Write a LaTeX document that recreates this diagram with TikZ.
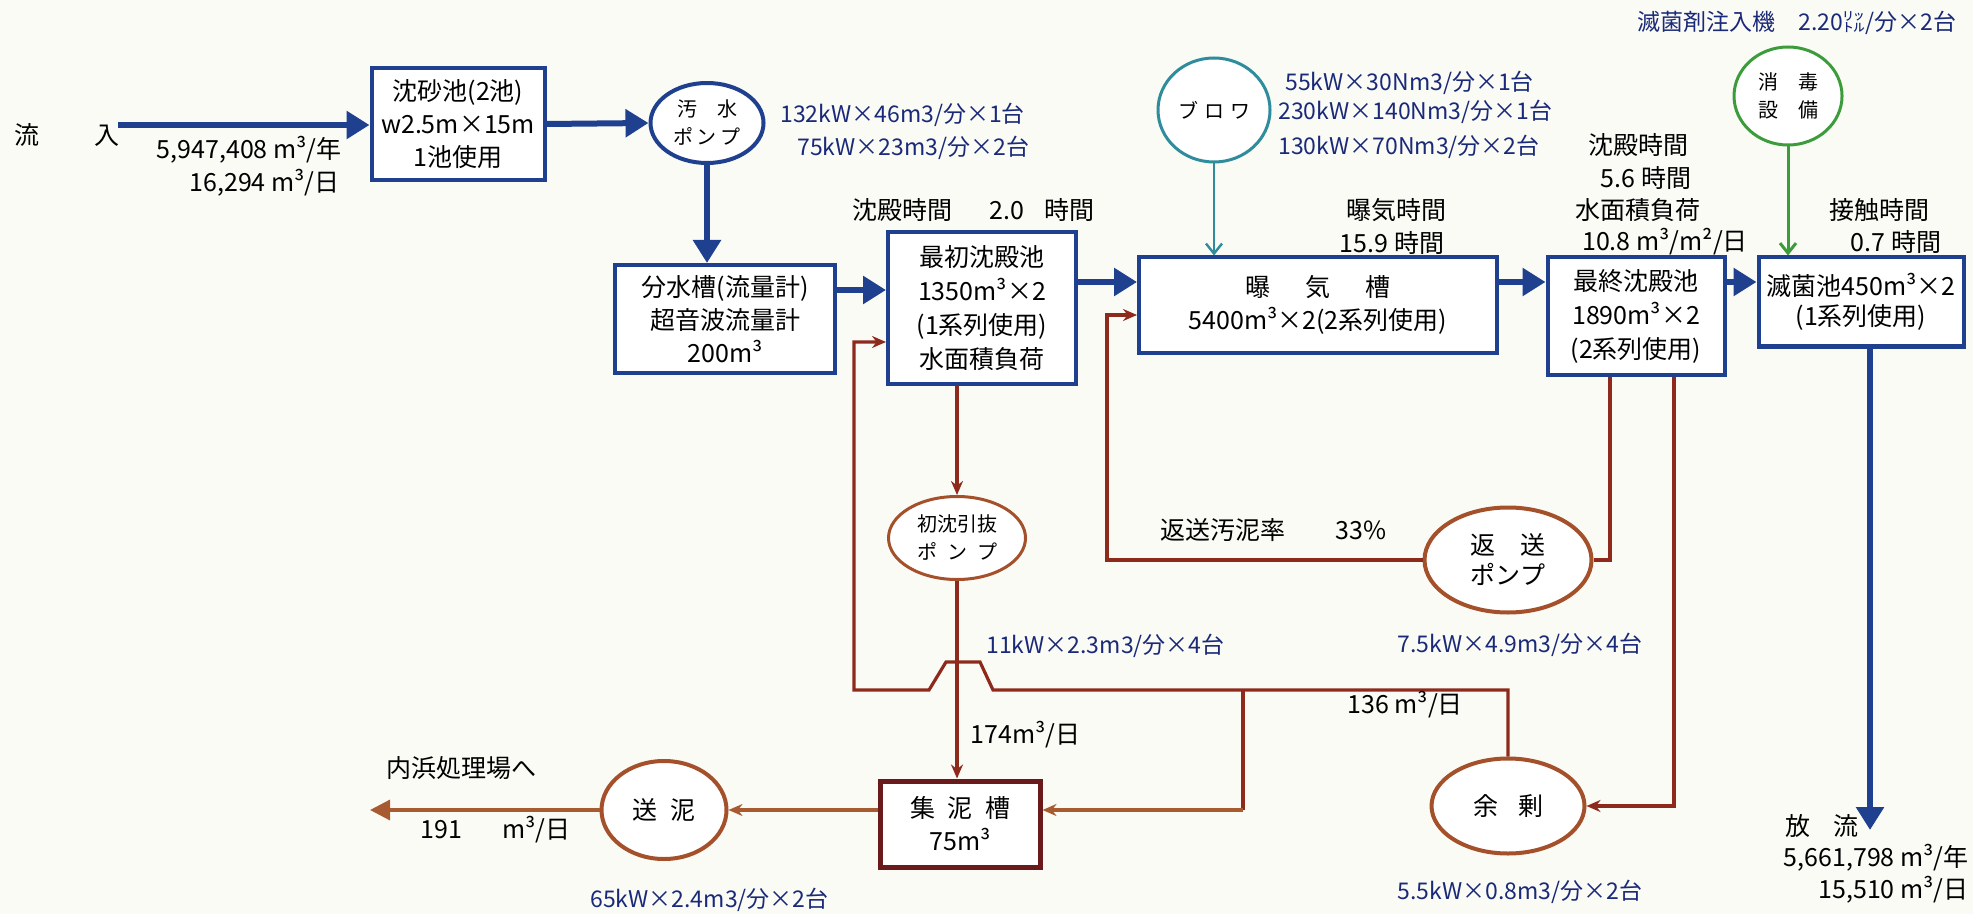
\documentclass[tikz,border=0pt]{standalone}
\usepackage{fontspec}
\setmainfont{Noto Sans CJK JP}
\usetikzlibrary{arrows.meta,shapes.geometric}

\definecolor{paper}{HTML}{FBFBF6}
\definecolor{flowblue}{HTML}{1F3F8F}
\definecolor{specblue}{HTML}{1A2A78}
\definecolor{sludge}{HTML}{8E2A1C}
\definecolor{pumpring}{HTML}{A4502A}
\definecolor{cakeline}{HTML}{A85A30}
\definecolor{tankred}{HTML}{6A1A1A}
\definecolor{airteal}{HTML}{2E8C9C}
\definecolor{chlorgreen}{HTML}{3C9C3C}

\newcommand{\labfont}{\fontsize{12.5}{16.5}\selectfont}
\newcommand{\specfont}{\fontsize{11.5}{14}\selectfont}
\newcommand{\pumpfont}{\fontsize{10}{14}\selectfont}

\begin{document}
\begin{tikzpicture}[x=0.5pt,y=-0.5pt,
    tank/.style={draw=flowblue, line width=2pt, fill=white, align=center, inner sep=0pt, font=\labfont},
    pumpring/.style={ellipse, draw=pumpring, line width=2pt, fill=white, align=center, inner sep=0pt, font=\labfont},
    label/.style={inner sep=0pt, font=\labfont},
    spec/.style={inner sep=0pt, font=\specfont, text=specblue},
    flow/.style={draw=flowblue, line width=3pt, -{Triangle[length=11.5pt,width=13.5pt]}},
    sludgeline/.style={draw=sludge, line width=1.6pt},
    sludgeflow/.style={sludgeline, -{Stealth[length=7pt,width=6pt]}},
    airline/.style={line width=1.2pt, -{Straight Barb[length=5pt,width=8pt]}}]

    % Paper and bounding box
    \fill[paper] (0,0) rectangle (1973,914);
    \useasboundingbox (0,0) rectangle (1973,914);

    % Water line tanks
    \node[tank, minimum width=86.5pt, minimum height=56pt] (grit) at (458,124) {沈砂池(2池)\\w2.5m×15m\\1池使用};
    \node[tank, minimum width=110pt, minimum height=54pt] (splitter) at (725,319) {分水槽(流量計)\\超音波流量計\\200m³};
    \node[tank, minimum width=94pt, minimum height=76pt, font=\fontsize{12.5}{17}\selectfont] (primary) at (982,308) {最初沈殿池\\1350m³×2\\(1系列使用)\\水面積負荷};
    \node[tank, minimum width=179pt, minimum height=47.5pt] (aeration) at (1318,305) {曝\hspace{1.4em}気\hspace{1.4em}槽\\5400m³×2(2系列使用)};
    \node[tank, minimum width=88.5pt, minimum height=58.5pt, font=\fontsize{12.5}{17}\selectfont] (final) at (1636,316) {最終沈殿池\\1890m³×2\\(2系列使用)};
    \node[tank, minimum width=102.5pt, minimum height=44.5pt, font=\fontsize{12.5}{15}\selectfont] (disinfect) at (1861,302) {滅菌池450m³×2\\(1系列使用)};

    % Pumps and blowers
    \node[ellipse, draw=flowblue, line width=2pt, fill=white, inner sep=0pt, align=center, font=\pumpfont,
          minimum width=56.5pt, minimum height=40pt] (pump) at (707,123) {汚\hspace{1em}水\\ポ\,ン\,プ};
    \node[ellipse, draw=airteal, line width=1.5pt, fill=white, inner sep=0pt, font=\pumpfont,
          minimum width=56pt, minimum height=52pt] (blower) at (1214,110) {ブ\hspace{0.3em}ロ\hspace{0.3em}ワ};
    \node[ellipse, draw=chlorgreen, line width=1.5pt, fill=white, inner sep=0pt, align=center, font=\pumpfont,
          minimum width=54pt, minimum height=49pt] (chlor) at (1788,96) {消\hspace{1em}毒\\設\hspace{1em}備};

    % Sludge line
    \node[pumpring, line width=1.5pt, font=\pumpfont, minimum width=68.5pt, minimum height=41.5pt] (drawoff) at (957,538) {初沈引抜\\ポ\hspace{0.5em}ン\hspace{0.5em}プ};
    \node[pumpring, minimum width=83.5pt, minimum height=52.5pt, font=\fontsize{12.5}{15}\selectfont] (retpump) at (1508,560) {返\hspace{1em}送\\ポンプ};
    \node[pumpring, minimum width=76.5pt, minimum height=47.5pt] (excess) at (1508,806) {余\hspace{0.8em}剰};
    \node[pumpring, minimum width=62.5pt, minimum height=49pt] (sender) at (664,810) {送\hspace{0.5em}泥};
    \node[draw=tankred, line width=2.5pt, fill=white, align=center, inner sep=0pt, font=\fontsize{12.5}{16.5}\selectfont,
          minimum width=80pt, minimum height=43pt] (sltank) at (960,824) {集\hspace{0.5em}泥\hspace{0.5em}槽\\75m³};

    % Free ends
    \coordinate (inlet) at (118,125);
    \coordinate (outfall) at (1870,830);
    \coordinate (disposal) at (370,810);
    \coordinate (tee) at (1243,690);

    % Water flow
    \draw[flow] (inlet) -- (grit.west |- inlet);
    \draw[flow] (grit.east) -- (pump.west);
    \draw[flow] (pump.south) -- (pump.south |- splitter.north);
    \draw[flow] (splitter.east |- 0,290) -- (primary.west |- 0,290);
    \draw[flow] (primary.east |- 0,282) -- (aeration.west |- 0,282);
    \draw[flow] (aeration.east |- 0,282) -- (final.west |- 0,282);
    \draw[flow] (final.east |- 0,282) -- (disinfect.west |- 0,282);
    \draw[flow] (disinfect.south -| outfall) -- (outfall);

    % Air and chlorine
    \draw[airline, airteal] (blower) -- (blower |- aeration.north);
    \draw[airline, chlorgreen, line width=1.5pt] (chlor) -- (chlor |- disinfect.north);

    % Sludge flow
    \draw[sludgeflow] (drawoff.north |- primary.south) -- (drawoff.north);
    \draw[sludgeflow] (drawoff.south) -- (drawoff.south |- sltank.north);
    \draw[sludgeline] (final.south -| 1610,0) |- (retpump.east);
    \draw[sludgeflow] (retpump.west) -| (1107,315) -- (aeration.west |- 0,315);
    \draw[sludgeflow] (final.south -| 1674,0) |- (excess.east);
    \draw[sludgeflow] (excess.north) -- (excess.north |- tee) -- (993,690) -- (980,662) -- (946,662) -- (929,690)
        -- (854,690) -- (854,342) -- (primary.west |- 0,342);
    \draw[sludgeline] (tee) -- (tee |- 0,810);
    \draw[sludgeflow, draw=cakeline] (tee |- 0,810) -- (sltank.east |- 0,810);
    \draw[sludgeflow, draw=cakeline] (sltank.west |- sender.east) -- (sender.east);
    \draw[sludgeline, draw=cakeline, fill=cakeline, -{Triangle[length=10pt,width=10pt]}] (sender.west) -- (disposal);

    % Labels
    \node[label] (inname) at (67,135) {流\hspace{2.2em}入};
    \node[label, anchor=east] (inyear) at (342,150) {5,947,408 m³/年};
    \node[label, anchor=east] (inday) at (340,183) {16,294 m³/日};
    \node[label, anchor=west] (primtime) at (852,210) {沈殿時間\hspace{1.5em}2.0\hspace{0.8em}時間};
    \node[label] (airtime) at (1396,210) {曝気時間};
    \node[label] (airhours) at (1392,243) {15.9 時間};
    \node[label] (settime) at (1638,145) {沈殿時間};
    \node[label] (sethours) at (1646,178) {5.6 時間};
    \node[label] (setload) at (1638,210) {水面積負荷};
    \node[label] (setrate) at (1665,242) {10.8 m³/m²/日};
    \node[label] (contime) at (1879,210) {接触時間};
    \node[label] (conhours) at (1896,242) {0.7 時間};
    \node[label] (outname) at (1822,826) {放\hspace{0.9em}流};
    \node[label, anchor=east] (outyear) at (1969,858) {5,661,798 m³/年};
    \node[label, anchor=east] (outday) at (1969,890) {15,510 m³/日};
    \node[label, anchor=west] (drawrate) at (970,735) {174m³/日};
    \node[label, anchor=west] (retratio) at (1160,530) {返送汚泥率\hspace{2em}33\%};
    \node[label, anchor=west] (excrate) at (1347,705) {136 m³/日};
    \node[label, anchor=west] (dest) at (386,768) {内浜処理場へ};
    \node[label, anchor=west] (destrate) at (420,830) {191\hspace{1.6em}m³/日};

    % Equipment specs
    \node[spec, anchor=west] (pumpspecA) at (780,115) {132kW×46m3/分×1台};
    \node[spec, anchor=west] (pumpspecB) at (797,148) {75kW×23m3/分×2台};
    \node[spec, anchor=west] (blowspecA) at (1285,83) {55kW×30Nm3/分×1台};
    \node[spec, anchor=west] (blowspecB) at (1278,112) {230kW×140Nm3/分×1台};
    \node[spec, anchor=west] (blowspecC) at (1278,147) {130kW×70Nm3/分×2台};
    \node[spec] (dosespec) at (1797,23) {滅菌剤注入機\hspace{1em}2.20㍑/分×2台};
    \node[spec, anchor=west] (drawspec) at (986,646) {11kW×2.3m3/分×4台};
    \node[spec, anchor=west] (retspec) at (1397,645) {7.5kW×4.9m3/分×4台};
    \node[spec, anchor=west] (excspec) at (1397,892) {5.5kW×0.8m3/分×2台};
    \node[spec, anchor=west] (sendspec) at (590,900) {65kW×2.4m3/分×2台};

\end{tikzpicture}
\end{document}
